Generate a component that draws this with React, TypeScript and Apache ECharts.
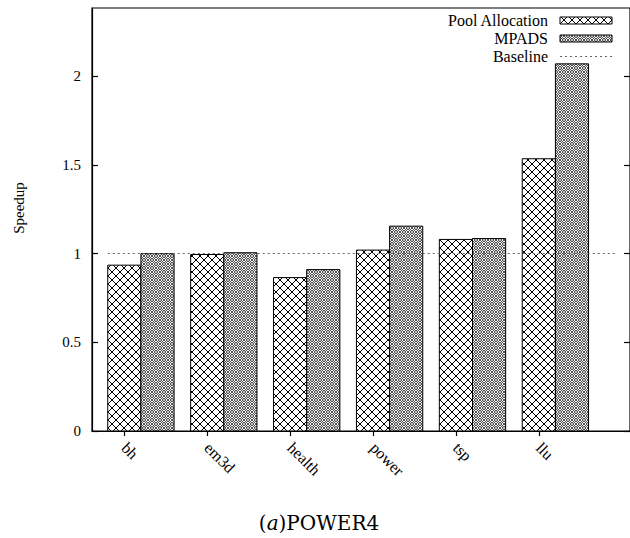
import React, { useEffect, useRef } from "react";
import * as echarts from "echarts";

const categories = ["bh", "em3d", "health", "power", "tsp", "llu"];
const poolAllocation = [0.935, 0.995, 0.865, 1.02, 1.08, 1.535];
const mpads = [1.0, 1.005, 0.91, 1.155, 1.085, 2.07];
const baselineValue = 1;
const baselineRange = [-0.2, 5.95];
const seriesNames = ["Pool Allocation", "MPADS", "Baseline"];
const yTicks = [0, 0.5, 1, 1.5, 2];
const xTicks = [0, 1, 2, 3, 4, 5];
const yAxisName = "Speedup";

const SERIF = "Liberation Serif, Times New Roman, serif";
const TITLE_FONT = "DejaVu Serif, serif";

function makePoolPattern(): HTMLCanvasElement {
  const s = 8;
  const c = document.createElement("canvas");
  c.width = s;
  c.height = s;
  const ctx = c.getContext("2d")!;
  ctx.fillStyle = "#fff";
  ctx.fillRect(0, 0, s, s);
  ctx.strokeStyle = "#000";
  ctx.lineWidth = 1;
  ctx.beginPath();
  for (const o of [-s, 0, s]) {
    ctx.moveTo(o, 0);
    ctx.lineTo(o + s, s);
    ctx.moveTo(o + s, 0);
    ctx.lineTo(o, s);
  }
  ctx.stroke();
  return c;
}

function makeMpadsPattern(): HTMLCanvasElement {
  const s = 8;
  const c = document.createElement("canvas");
  c.width = s;
  c.height = s;
  const ctx = c.getContext("2d")!;
  ctx.fillStyle = "#fff";
  ctx.fillRect(0, 0, s, s);
  ctx.strokeStyle = "#000";
  ctx.lineWidth = 0.7;
  ctx.beginPath();
  for (const o of [-s, 0, s]) {
    ctx.moveTo(o, 0);
    ctx.lineTo(o + s, s);
    ctx.moveTo(o + s, 0);
    ctx.lineTo(o, s);
  }
  ctx.stroke();
  ctx.lineWidth = 0.8;
  for (const [cx, cy] of [
    [s / 2, 0],
    [0, s / 2],
    [s, s / 2],
    [s / 2, s],
  ]) {
    ctx.beginPath();
    ctx.arc(cx, cy, 1.5, 0, Math.PI * 2);
    ctx.fillStyle = "#fff";
    ctx.fill();
    ctx.stroke();
  }
  return c;
}

export default function App() {
  const ref = useRef<HTMLDivElement>(null);

  useEffect(() => {
    if (!ref.current) return;
    const chart = echarts.init(ref.current, undefined, { renderer: "svg" });
    const poolPat = { image: makePoolPattern(), repeat: "repeat" };
    const mpadsPat = { image: makeMpadsPattern(), repeat: "repeat" };

    const barSeries = (name: string, values: number[], offset: number, pattern: any) => ({
      type: "custom",
      name,
      data: values.map((v, i) => [i, v]),
      encode: { x: 0, y: 1 },
      z: 2,
      renderItem: (_p: any, api: any) => {
        const i = api.value(0);
        const v = api.value(1);
        const a = api.coord([i + offset - 0.2, v]);
        const b = api.coord([i + offset + 0.2, 0]);
        return {
          type: "rect",
          shape: { x: a[0], y: a[1], width: b[0] - a[0], height: b[1] - a[1] },
          style: { fill: pattern, stroke: "#000", lineWidth: 1 },
        };
      },
    });

    const legendX = 548;
    const legendRowGap = 18;
    const legendMid = 38.5;
    const legendRows = [legendMid - legendRowGap, legendMid, legendMid + legendRowGap];

    chart.setOption({
      animation: false,
      backgroundColor: "#fff",
      grid: {
        left: 92,
        top: 8,
        right: -1,
        bottom: 107,
        show: true,
        borderColor: "#000",
        borderWidth: 1.2,
        backgroundColor: "transparent",
      },
      xAxis: {
        type: "value",
        min: -0.39,
        max: 6.1,
        splitLine: { show: false },
        axisLine: { show: true, onZero: false, lineStyle: { color: "#000", width: 1.2 } },
        axisTick: {
          show: true,
          inside: false,
          length: 5,
          customValues: xTicks,
          lineStyle: { color: "#000", width: 1.2 },
        },
        axisLabel: {
          customValues: xTicks,
          formatter: (v: number) => categories[Math.round(v)] ?? "",
          rotate: -45,
          margin: 14,
          color: "#000",
          fontFamily: SERIF,
          fontSize: 16,
        },
      },
      yAxis: [
        {
          type: "value",
          min: 0,
          max: 2.385,
          position: "left",
          splitLine: { show: false },
          axisLine: { show: true, onZero: false, lineStyle: { color: "#000", width: 1.2 } },
          axisTick: {
            show: true,
            inside: true,
            length: 6,
            customValues: yTicks,
            lineStyle: { color: "#000", width: 1.2 },
          },
          axisLabel: {
            customValues: yTicks,
            margin: 11,
            color: "#000",
            fontFamily: SERIF,
            fontSize: 15,
          },
        },
        {
          type: "value",
          min: 0,
          max: 2.385,
          position: "right",
          splitLine: { show: false },
          axisLine: { show: false, onZero: false },
          axisTick: {
            show: true,
            inside: true,
            length: 6,
            customValues: yTicks,
            lineStyle: { color: "#000", width: 1.2 },
          },
          axisLabel: { show: false },
        },
      ],
      series: [
        barSeries(seriesNames[0], poolAllocation, 0, poolPat),
        barSeries(seriesNames[1], mpads, 0.4, mpadsPat),
        {
          type: "line",
          name: seriesNames[2],
          data: [],
          z: 5,
          markLine: {
            silent: true,
            symbol: "none",
            label: { show: false },
            lineStyle: { type: [2, 3], color: "#666", width: 1 },
            data: [
              [
                { coord: [baselineRange[0], baselineValue] },
                { coord: [baselineRange[1], baselineValue] },
              ],
            ],
          },
        },
      ],
      graphic: [
        ...seriesNames.map((n, k) => ({
          type: "text",
          x: legendX,
          y: legendRows[k],
          style: {
            text: n,
            align: "right",
            verticalAlign: "middle",
            fontFamily: SERIF,
            fontSize: 16,
            fill: "#000",
          },
        })),
        {
          type: "rect",
          shape: { x: 560, y: legendRows[0] - 3.5, width: 52, height: 7 },
          style: { fill: poolPat, stroke: "#000", lineWidth: 1 },
        },
        {
          type: "rect",
          shape: { x: 560, y: legendRows[1] - 3.5, width: 52, height: 7 },
          style: { fill: mpadsPat, stroke: "#000", lineWidth: 1 },
        },
        {
          type: "line",
          shape: { x1: 560, y1: legendRows[2], x2: 612, y2: legendRows[2] },
          style: { stroke: "#666", lineWidth: 1, lineDash: [2, 3] },
        },
        {
          type: "text",
          x: 19,
          y: 208,
          rotation: Math.PI / 2,
          style: {
            text: yAxisName,
            align: "center",
            verticalAlign: "middle",
            fontFamily: SERIF,
            fontSize: 15,
            fill: "#000",
          },
        },
        {
          type: "text",
          x: 319,
          y: 523,
          style: {
            text: "{n|(}{i|a}{n|)POWER4}",
            align: "center",
            verticalAlign: "middle",
            rich: {
              n: { fontFamily: TITLE_FONT, fontSize: 20, fill: "#000" },
              i: { fontFamily: TITLE_FONT, fontStyle: "italic", fontSize: 20, fill: "#000" },
            },
          },
        },
      ],
    });

    return () => chart.dispose();
  }, []);

  return (
    <div
      ref={ref}
      style={{ position: "absolute", left: 0, top: 0, width: 630, height: 538, background: "#fff" }}
    />
  );
}
